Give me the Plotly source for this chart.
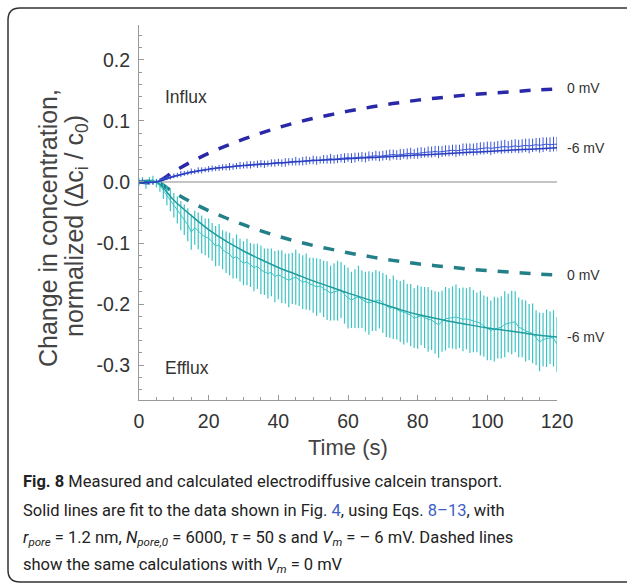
import plotly.graph_objects as go

# time axis for the measured data (1 s steps)
t_data = list(range(0, 121))

influx_data = [
    0.000, 0.002, -0.001, 0.001, -0.002, 0.001, 0.003, 0.005, 0.007, 0.008,
    0.010, 0.011, 0.013, 0.014, 0.015, 0.017, 0.017, 0.019, 0.019, 0.020,
    0.021, 0.022, 0.022, 0.023, 0.024, 0.024, 0.025, 0.025, 0.026, 0.027,
    0.027, 0.028, 0.028, 0.029, 0.029, 0.030, 0.029, 0.030, 0.031, 0.031,
    0.032, 0.031, 0.032, 0.033, 0.033, 0.034, 0.033, 0.034, 0.035, 0.035,
    0.036, 0.035, 0.036, 0.037, 0.037, 0.038, 0.037, 0.038, 0.039, 0.039,
    0.040, 0.039, 0.040, 0.041, 0.041, 0.040, 0.042, 0.042, 0.043, 0.042,
    0.043, 0.044, 0.044, 0.045, 0.044, 0.045, 0.046, 0.046, 0.047, 0.046,
    0.047, 0.048, 0.048, 0.049, 0.049, 0.050, 0.049, 0.050, 0.051, 0.051,
    0.052, 0.051, 0.052, 0.053, 0.053, 0.054, 0.053, 0.054, 0.055, 0.055,
    0.056, 0.055, 0.056, 0.057, 0.057, 0.058, 0.057, 0.058, 0.059, 0.058,
    0.059, 0.060, 0.059, 0.060, 0.061, 0.060, 0.061, 0.062, 0.061, 0.062,
    0.062,
]
influx_err = [
    0.003, 0.003, 0.003, 0.003, 0.003, 0.003, 0.003, 0.003, 0.004, 0.004,
    0.004, 0.004, 0.005, 0.004, 0.004, 0.005, 0.004, 0.005, 0.005, 0.004,
    0.005, 0.005, 0.004, 0.005, 0.005, 0.005, 0.006, 0.005, 0.005, 0.006,
    0.005, 0.006, 0.006, 0.005, 0.006, 0.006, 0.006, 0.005, 0.006, 0.006,
    0.006, 0.006, 0.007, 0.006, 0.006, 0.007, 0.006, 0.007, 0.007, 0.006,
    0.007, 0.007, 0.006, 0.007, 0.007, 0.008, 0.007, 0.007, 0.007, 0.008,
    0.007, 0.008, 0.008, 0.007, 0.008, 0.008, 0.008, 0.007, 0.008, 0.008,
    0.008, 0.008, 0.009, 0.008, 0.008, 0.009, 0.008, 0.009, 0.009, 0.008,
    0.009, 0.009, 0.008, 0.009, 0.009, 0.009, 0.010, 0.009, 0.009, 0.009,
    0.009, 0.010, 0.009, 0.010, 0.010, 0.009, 0.010, 0.010, 0.010, 0.010,
    0.010, 0.011, 0.010, 0.010, 0.011, 0.011, 0.010, 0.011, 0.011, 0.011,
    0.011, 0.011, 0.012, 0.011, 0.011, 0.012, 0.012, 0.011, 0.012, 0.012,
    0.012,
]

efflux_data = [
    0.000, 0.003, -0.004, 0.002, 0.004, -0.002, -0.006, -0.015, -0.022, -0.030,
    -0.038, -0.046, -0.055, -0.062, -0.070, -0.082, -0.075, -0.080, -0.086, -0.090,
    -0.092, -0.098, -0.105, -0.103, -0.111, -0.115, -0.118, -0.125, -0.122, -0.128,
    -0.133, -0.131, -0.136, -0.140, -0.138, -0.144, -0.147, -0.150, -0.148, -0.155,
    -0.152, -0.155, -0.158, -0.161, -0.158, -0.156, -0.160, -0.164, -0.163, -0.167,
    -0.169, -0.172, -0.170, -0.175, -0.178, -0.182, -0.180, -0.178, -0.177, -0.184,
    -0.190, -0.193, -0.191, -0.188, -0.192, -0.196, -0.198, -0.196, -0.194, -0.193,
    -0.198, -0.203, -0.207, -0.205, -0.209, -0.212, -0.213, -0.215, -0.218, -0.223,
    -0.221, -0.219, -0.222, -0.225, -0.226, -0.230, -0.234, -0.228, -0.224, -0.223,
    -0.222, -0.221, -0.223, -0.225, -0.224, -0.226, -0.228, -0.230, -0.231, -0.236,
    -0.240, -0.243, -0.241, -0.239, -0.238, -0.233, -0.231, -0.230, -0.229, -0.238,
    -0.240, -0.244, -0.246, -0.248, -0.255, -0.262, -0.258, -0.256, -0.255, -0.256,
    -0.266,
]
efflux_err = [
    0.006, 0.005, 0.007, 0.006, 0.006, 0.007, 0.010, 0.013, 0.016, 0.018,
    0.020, 0.022, 0.024, 0.025, 0.027, 0.029, 0.028, 0.030, 0.031, 0.030,
    0.032, 0.031, 0.033, 0.034, 0.032, 0.034, 0.035, 0.033, 0.036, 0.035,
    0.036, 0.038, 0.036, 0.039, 0.037, 0.040, 0.038, 0.041, 0.039, 0.042,
    0.040, 0.043, 0.041, 0.044, 0.042, 0.045, 0.043, 0.044, 0.046, 0.043,
    0.045, 0.047, 0.044, 0.046, 0.048, 0.045, 0.047, 0.049, 0.046, 0.048,
    0.050, 0.046, 0.048, 0.051, 0.047, 0.049, 0.052, 0.048, 0.050, 0.047,
    0.049, 0.051, 0.048, 0.052, 0.049, 0.050, 0.053, 0.048, 0.051, 0.049,
    0.052, 0.048, 0.050, 0.053, 0.049, 0.051, 0.054, 0.050, 0.052, 0.049,
    0.051, 0.053, 0.049, 0.052, 0.050, 0.054, 0.051, 0.049, 0.053, 0.050,
    0.052, 0.049, 0.053, 0.050, 0.051, 0.054, 0.048, 0.052, 0.050, 0.049,
    0.047, 0.050, 0.046, 0.049, 0.045, 0.048, 0.044, 0.047, 0.043, 0.046,
    0.045,
]

# model curves
t_model = [0, 5, 10, 15, 20, 25, 30, 35, 40, 45, 50, 55, 60, 65, 70, 75, 80,
           85, 90, 95, 100, 105, 110, 115, 120]
influx_0mv = [0, 0, 0.017, 0.033, 0.047, 0.059, 0.070, 0.080, 0.089, 0.097, 0.104,
              0.110, 0.116, 0.121, 0.126, 0.130, 0.134, 0.137, 0.140, 0.143,
              0.145, 0.147, 0.149, 0.151, 0.152]
influx_fit = [0, 0, 0.009, 0.016, 0.021, 0.024, 0.027, 0.029, 0.031, 0.033, 0.035,
              0.0365, 0.038, 0.0395, 0.041, 0.0425, 0.044, 0.0455, 0.047, 0.0485,
              0.050, 0.0515, 0.053, 0.0545, 0.056]
efflux_0mv = [0, 0, -0.017, -0.033, -0.047, -0.059, -0.070, -0.080, -0.089, -0.097,
              -0.104, -0.110, -0.116, -0.121, -0.126, -0.130, -0.134, -0.137,
              -0.140, -0.143, -0.145, -0.147, -0.149, -0.151, -0.152]
efflux_fit = [0, 0, -0.030, -0.055, -0.078, -0.097, -0.113, -0.127, -0.140, -0.151,
              -0.162, -0.172, -0.182, -0.191, -0.200, -0.209, -0.217, -0.223,
              -0.229, -0.234, -0.239, -0.243, -0.247, -0.251, -0.254]

y_ticks = [-0.3, -0.2, -0.1, 0.0, 0.1, 0.2]
y_ticklabels = ["-0.3", "-0.2", "-0.1", "0.0", "0.1", "0.2"]
x_ticks = [0, 20, 40, 60, 80, 100, 120]

W, H = 627, 586
L, R, T, B = 139, 70, 25, 186
PW, PH = W - L - R, H - T - B


def px(x):
    return (x - L) / PW


def py(y):
    return (H - B - y) / PH


DARKBLUE = "#2828a8"
BLUE = "#3a56d8"
BLUEFIT = "#2a3cc0"
TEAL = "#3cc3c3"
TEALFIT = "#1f9c9e"
DARKTEAL = "#237f88"

fig = go.Figure()

fig.add_trace(go.Scatter(x=[0, 120], y=[0, 0], mode="lines",
                         line=dict(color="#b0b0b0", width=1.5), hoverinfo="skip"))

fig.add_trace(go.Scatter(x=t_model, y=influx_0mv, mode="lines", line_shape="spline",
                         line=dict(color=DARKBLUE, width=3.5, dash="11px,11px")))
fig.add_trace(go.Scatter(x=t_model, y=efflux_0mv, mode="lines", line_shape="spline",
                         line=dict(color=DARKTEAL, width=3.5, dash="11px,11px")))

fig.add_trace(go.Scatter(x=t_data, y=efflux_data, mode="lines",
                         line=dict(color=TEAL, width=1),
                         error_y=dict(type="data", array=efflux_err, color=TEAL,
                                      thickness=1.2, width=0)))
fig.add_trace(go.Scatter(x=t_data, y=influx_data, mode="lines",
                         line=dict(color=BLUE, width=1),
                         error_y=dict(type="data", array=influx_err, color=BLUE,
                                      thickness=1, width=0)))

fig.add_trace(go.Scatter(x=t_model, y=efflux_fit, mode="lines", line_shape="spline",
                         line=dict(color=TEALFIT, width=1.5)))
fig.add_trace(go.Scatter(x=t_model, y=influx_fit, mode="lines", line_shape="spline",
                         line=dict(color=BLUEFIT, width=1.5)))

SANS = "Liberation Sans, Arial, sans-serif"
axis_font = dict(family=SANS, size=19.5, color="#333")
label_font = dict(family=SANS, size=14, color="#333")
title_font = dict(family=SANS, size=25, color="#444")
cap_font = dict(family="Roboto, Liberation Sans, sans-serif", size=16.5, color="#222")

ann = [
    dict(x=6.9, y=0.139, xref="x", yref="y", text="Influx", xanchor="left",
         font=dict(family=SANS, size=17.5, color="#333")),
    dict(x=6.9, y=-0.305, xref="x", yref="y", text="Efflux", xanchor="left",
         font=dict(family=SANS, size=17.5, color="#333")),
    dict(x=px(565), y=py(88), text="0 mV", xanchor="left", font=label_font),
    dict(x=px(565), y=py(148), text="-6 mV", xanchor="left", font=label_font),
    dict(x=px(565), y=py(275), text="0 mV", xanchor="left", font=label_font),
    dict(x=px(565), y=py(337), text="-6 mV", xanchor="left", font=label_font),
    dict(x=px(48), y=py(228), textangle=-90, text="Change in concentration,",
         font=title_font),
    dict(x=px(76), y=py(226), textangle=-90,
         text="normalized (Δc<sub>i</sub> / c<sub>0</sub>)", font=title_font),
    dict(x=px(348), y=py(447), text="Time (s)", font=dict(title_font, size=22)),
    dict(x=px(21), y=py(482), xanchor="left",
         text="<b>Fig. 8</b> Measured and calculated electrodiffusive calcein transport.",
         font=cap_font),
    dict(x=px(21), y=py(510), xanchor="left",
         text="Solid lines are fit to the data shown in Fig. <span style='color:#3b5fc4'>4</span>, "
              "using Eqs. <span style='color:#3b5fc4'>8–13</span>, with",
         font=cap_font),
    dict(x=px(21), y=py(538), xanchor="left",
         text="<i>r</i><sub><i>pore</i></sub> = 1.2 nm, <i>N</i><sub><i>pore,0</i></sub> = 6000, "
              "<i>τ</i> = 50 s and <i>V</i><sub><i>m</i></sub> = – 6 mV. Dashed lines",
         font=cap_font),
    dict(x=px(21), y=py(565), xanchor="left",
         text="show the same calculations with <i>V</i><sub><i>m</i></sub> = 0 mV",
         font=cap_font),
]
for a in ann:
    a.setdefault("xref", "paper")
    a.setdefault("yref", "paper")
    a.setdefault("xanchor", "center")
    a["yanchor"] = "middle"
    a["showarrow"] = False

# rounded frame around the figure panel
x0, xr = px(8), px(660)
yt, yb = py(8), py(582)
rx, ry = 12 / PW, 12 / PH
frame = (f"M {xr},{yt} L {x0 + rx},{yt} Q {x0},{yt} {x0},{yt - ry} "
         f"L {x0},{yb + ry} Q {x0},{yb} {x0 + rx},{yb} L {xr},{yb}")

fig.update_layout(
    width=W, height=H, autosize=False,
    margin=dict(l=L, r=R, t=T, b=B),
    paper_bgcolor="white", plot_bgcolor="white",
    showlegend=False,
    annotations=ann,
    shapes=[dict(type="path", path=frame, xref="paper", yref="paper",
                 line=dict(color="#333", width=1.5))],
    xaxis=dict(range=[0, 120], tickvals=x_ticks,
               showgrid=False, zeroline=False, showline=True, linecolor="#999",
               linewidth=1, ticks="inside", ticklen=5, tickcolor="#999",
               minor=dict(dtick=5, ticks="inside", ticklen=3, tickcolor="#999"),
               tickfont=axis_font, ticklabelstandoff=4),
    yaxis=dict(range=[-0.357, 0.257], tickvals=y_ticks, ticktext=y_ticklabels,
               showgrid=False, zeroline=False, showline=True, linecolor="#999",
               linewidth=1, ticks="inside", ticklen=5, tickcolor="#999",
               minor=dict(dtick=0.02, ticks="inside", ticklen=3, tickcolor="#999"),
               tickfont=axis_font, ticklabelstandoff=4),
)

fig.write_html("out.html", config={"displayModeBar": False},
               post_script="document.body.style.margin='0px';")
